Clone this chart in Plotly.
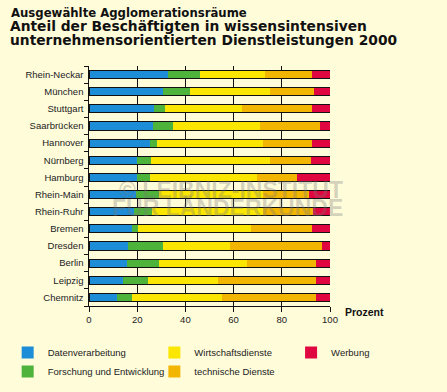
import plotly.graph_objects as go

regions = ["Rhein-Neckar", "München", "Stuttgart", "Saarbrücken", "Hannover", "Nürnberg",
           "Hamburg", "Rhein-Main", "Rhein-Ruhr", "Bremen", "Dresden", "Berlin", "Leipzig", "Chemnitz"]

datenverarbeitung = [32.7, 30.6, 26.9, 26.5, 25.2, 20.1, 20.1, 19.4, 18.6, 17.8, 16.1, 15.7, 14.1, 11.6]
forschung = [13.2, 11.2, 4.5, 8.3, 2.9, 5.6, 5.3, 9.6, 7.6, 2.5, 14.5, 13.3, 10.3, 6.2]
wirtschaftsdienste = [27.3, 33.1, 31.9, 36.0, 44.3, 49.6, 44.5, 43.1, 45.8, 47.1, 27.7, 36.4, 29.0, 37.2]
technische_dienste = [19.5, 18.6, 29.4, 25.2, 20.3, 17.0, 16.4, 19.3, 21.1, 25.3, 38.5, 28.9, 40.9, 39.3]
werbung = [7.3, 6.5, 7.3, 4.0, 7.3, 7.7, 13.7, 8.6, 6.9, 7.3, 3.2, 5.7, 5.7, 5.7]

series = [
    ("Datenverarbeitung", datenverarbeitung, "#1C8DD6", "legend", 1),
    ("Forschung und Entwicklung", forschung, "#4DB33A", "legend", 2),
    ("Wirtschaftsdienste", wirtschaftsdienste, "#FAE600", "legend2", 1),
    ("technische Dienste", technische_dienste, "#F2B600", "legend2", 2),
    ("Werbung", werbung, "#E0063F", "legend3", 1),
]

totals = [sum(v) for v in zip(datenverarbeitung, forschung, wirtschaftsdienste, technische_dienste, werbung)]

BG = "#FFFCDA"
FONT = "Liberation Sans"

fig = go.Figure()
for name, vals, color, lg, rank in series:
    fig.add_trace(go.Bar(
        y=regions, x=vals, name=name, orientation="h",
        marker=dict(color=color, line=dict(color="rgba(30,30,30,0.55)", width=0)),
        legend=lg, legendrank=rank,
    ))

# black frame around each whole bar (drawn on an overlaying axis pair)
fig.add_trace(go.Bar(
    y=regions, x=totals, orientation="h", xaxis="x2", yaxis="y2",
    marker=dict(color="rgba(0,0,0,0)", line=dict(color="#111111", width=1)),
    showlegend=False, hoverinfo="skip",
))

PL, PR, PT, PB = 88.5, 330.0, 66.0, 306.0
W, H = PR - PL, PB - PT

def px_x(p):
    return (p - PL) / W

def px_y(p):
    return (PB - p) / H

leg_common = dict(orientation="v", xanchor="left", yanchor="top", bgcolor="rgba(0,0,0,0)",
                  font=dict(family=FONT, size=9.5, color="#222222"), tracegroupgap=0,
                  traceorder="normal", itemclick=False, itemdoubleclick=False)

fig.update_layout(
    width=447, height=392,
    margin=dict(l=PL, r=447 - PR, t=PT, b=392 - PB, pad=0, autoexpand=False),
    paper_bgcolor=BG, plot_bgcolor=BG,
    barmode="stack", bargap=0.53,
    font=dict(family=FONT, size=9, color="#222222"),
    showlegend=True,
    legend=dict(x=px_x(7), y=px_y(338), **leg_common),
    legend2=dict(x=px_x(154), y=px_y(338), **leg_common),
    legend3=dict(x=px_x(291), y=px_y(338), **leg_common),
    xaxis=dict(range=[0, 100], tickvals=[0, 20, 40, 60, 80, 100], showgrid=True,
               gridcolor="#111111", gridwidth=1, showline=True, linecolor="#111111", linewidth=1,
               ticks="outside", ticklen=5, tickcolor="#111111", zeroline=False,
               tickfont=dict(family=FONT, size=9.5, color="#222222"), fixedrange=True),
    yaxis=dict(categoryorder="array", categoryarray=regions[::-1], tickson="boundaries",
               ticks="outside", ticklen=4, tickcolor="#111111", showline=True, linecolor="#111111",
               linewidth=1, showgrid=False, ticksuffix=" ",
               tickfont=dict(family=FONT, size=9.5, color="#222222"), fixedrange=True),
    xaxis2=dict(range=[0, 100], overlaying="x", visible=False, fixedrange=True),
    yaxis2=dict(categoryorder="array", categoryarray=regions[::-1], overlaying="y",
                visible=False, fixedrange=True),
)

fig.add_annotation(text="<b>Ausgewählte Agglomerationsräume</b>", xref="paper", yref="paper",
                   x=px_x(8), y=px_y(13), xanchor="left", yanchor="middle", showarrow=False,
                   font=dict(family="DejaVu Sans", size=11.7, color="#111111"))
fig.add_annotation(text="<b>Anteil der Beschäftigten in wissensintensiven</b>", xref="paper", yref="paper",
                   x=px_x(7), y=px_y(26), xanchor="left", yanchor="middle", showarrow=False,
                   font=dict(family="DejaVu Sans", size=13.8, color="#111111"))
fig.add_annotation(text="<b>unternehmensorientierten Dienstleistungen 2000</b>", xref="paper", yref="paper",
                   x=px_x(7), y=px_y(40), xanchor="left", yanchor="middle", showarrow=False,
                   font=dict(family="DejaVu Sans", size=13.8, color="#111111"))
fig.add_annotation(text="<b>Prozent</b>", xref="paper", yref="paper",
                   x=px_x(343), y=px_y(312), xanchor="left", yanchor="middle", showarrow=False,
                   font=dict(family=FONT, size=10.5, color="#111111"))
fig.add_annotation(text="<b>© LEIBNIZ-INSTITUT</b>", xref="paper", yref="paper",
                   x=px_x(345), y=px_y(190), xanchor="right", yanchor="middle", showarrow=False,
                   font=dict(family="Liberation Sans", size=23, color="rgba(120,120,120,0.32)"))
fig.add_annotation(text="<b>FÜR LÄNDERKUNDE</b>", xref="paper", yref="paper",
                   x=px_x(345), y=px_y(208), xanchor="right", yanchor="middle", showarrow=False,
                   font=dict(family="Liberation Sans", size=23, color="rgba(120,120,120,0.32)"))

fig.write_html("out.html", config={"displayModeBar": False},
               post_script="document.body.style.margin='0';")
